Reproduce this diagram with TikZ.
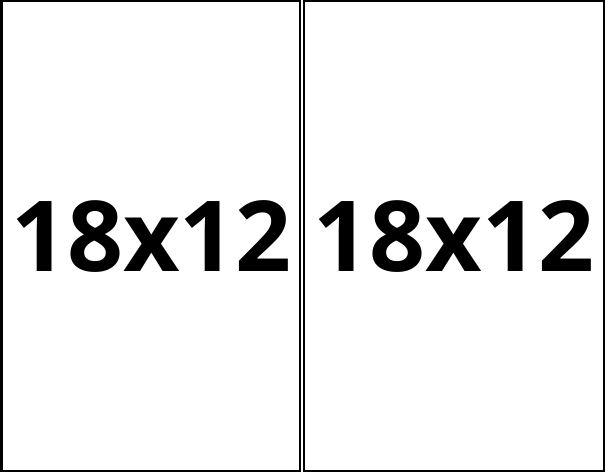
\documentclass[tikz,border=0pt]{standalone}
\usepackage{fontspec}
\setmainfont{Open Sans}[BoldFont={Open Sans Bold}]
\begin{document}
\begin{tikzpicture}[x=1bp,y=-1bp,
  panel/.style={draw=black,line width=2bp,fill=white},
  lbl/.style={inner sep=0pt,font=\fontsize{98bp}{98bp}\selectfont\bfseries}]
\useasboundingbox (0,0) rectangle (605,472);
\fill[white] (0,0) rectangle (605,472);
\draw[panel] (1.5,1.5) rectangle (300,470.5);
\draw[panel] (303.5,1.5) rectangle (603.5,470.5);
\node[lbl] (a) at (151.5,236) {18x12};
\node[lbl] (b) at (454,236) {18x12};
\end{tikzpicture}
\end{document}
